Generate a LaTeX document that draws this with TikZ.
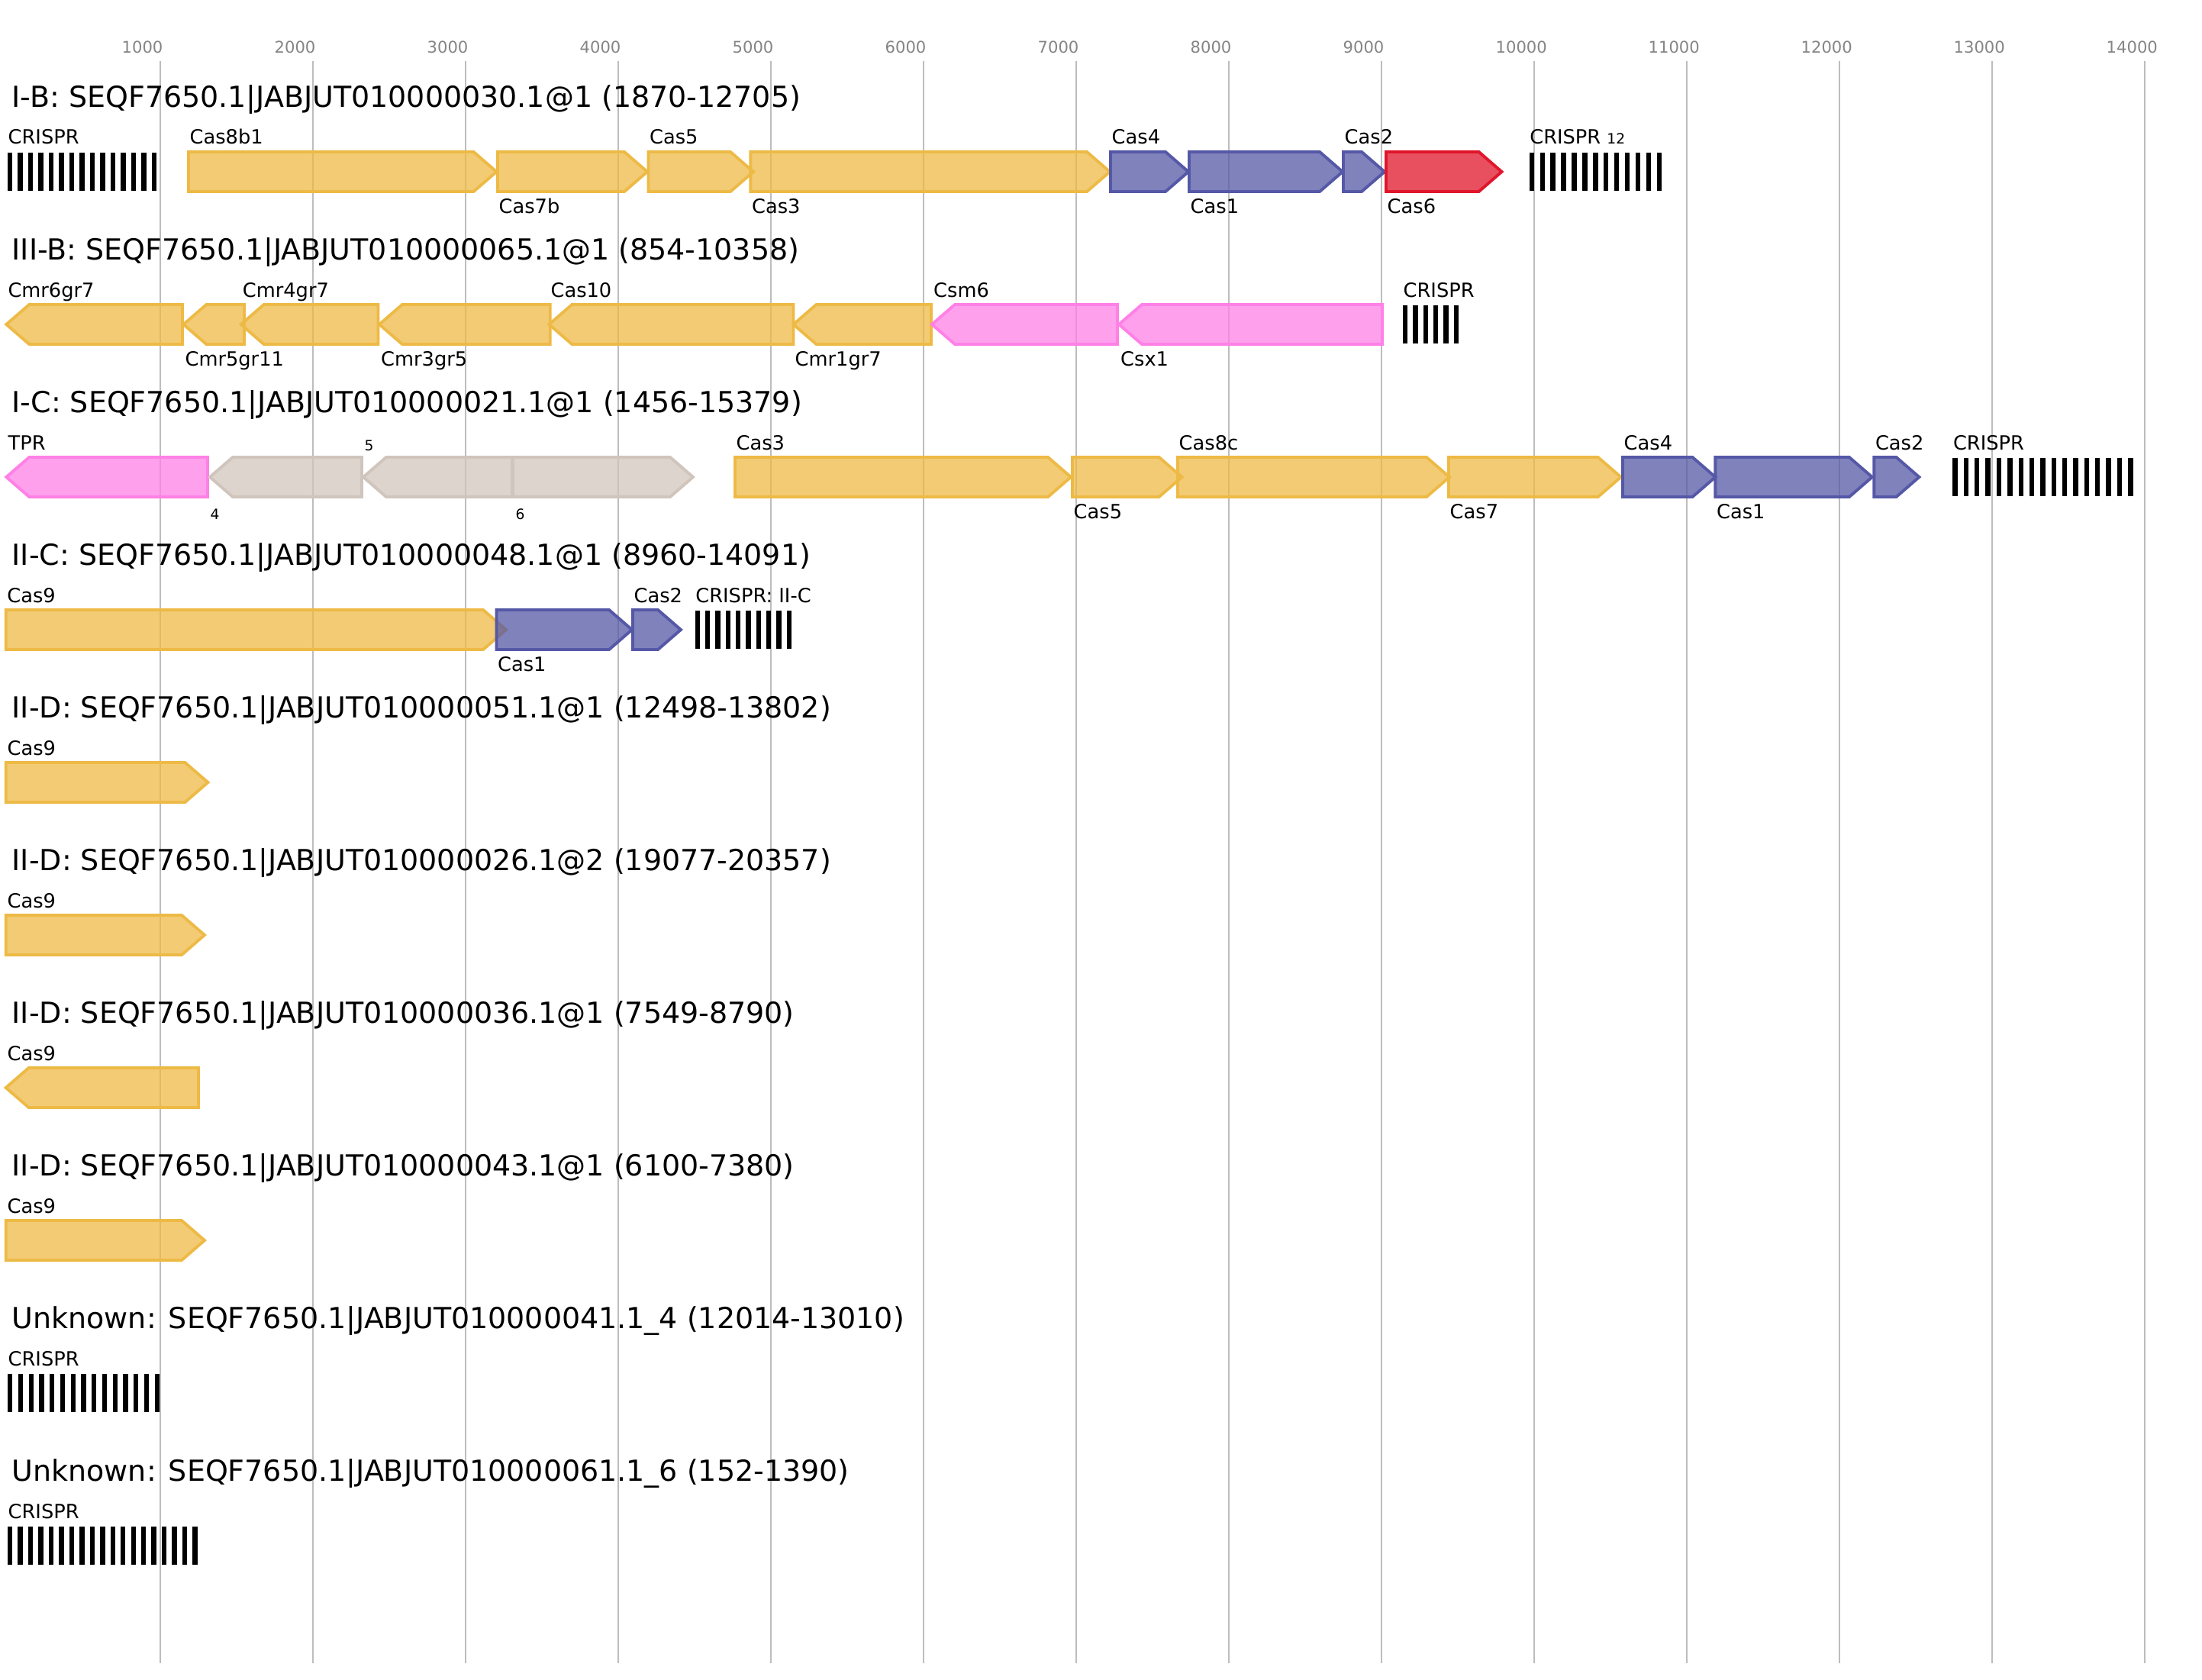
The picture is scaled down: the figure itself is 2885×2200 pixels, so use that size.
\documentclass[tikz,border=0pt]{standalone}
\usepackage{fontspec}
\setmainfont{DejaVu Sans}
\definecolor{cyel}{HTML}{EDBA46}
\definecolor{cblu}{HTML}{5558A6}
\definecolor{cred}{HTML}{E0162B}
\definecolor{cpnk}{HTML}{FF80E6}
\definecolor{cgry}{HTML}{D0C5BC}
\definecolor{cgrid}{HTML}{BDBDBD}
\definecolor{ctick}{HTML}{858585}
\newcommand{\genebox}[5]{%
  \if#1r
    \draw[gene=#5] (#2,#4-26) -- (#3-30,#4-26) -- (#3,#4) -- (#3-30,#4+26) -- (#2,#4+26) -- cycle;
  \else
    \draw[gene=#5] (#2,#4) -- (#2+30,#4-26) -- (#3,#4-26) -- (#3,#4+26) -- (#2+30,#4+26) -- cycle;
  \fi}
\newcommand{\crarray}[4]{%
  \pgfmathsetmacro{\crgap}{(#2-#1-6.4)/(#3-1)}
  \foreach \k in {1,...,#3}
    \fill[black] (#1+\k*\crgap-\crgap,#4-25) rectangle ++(6.4,50);}
\begin{document}
\begin{tikzpicture}[
    x=0.01cm, y=-0.01cm,
    every node/.style={inner sep=0pt, anchor=base west},
    title/.style={font=\fontsize{10.8}{12}\selectfont},
    lab/.style={font=\fontsize{7.3}{8}\selectfont},
    num/.style={font=\fontsize{5.3}{6}\selectfont},
    tick/.style={font=\fontsize{6}{7}\selectfont, text=ctick},
    grid/.style={draw=cgrid, line width=0.55pt},
    gene/.style={draw=#1, fill=#1, fill opacity=0.75, line width=1.1pt, line join=miter}
]
\useasboundingbox (0,0) rectangle (2885,2200);
\foreach \k in {1,...,14} {
    \draw[grid] (10+\k*200,80) -- (10+\k*200,2179);
    \node[tick] (t\k) at (10+\k*200-51,70) {\the\numexpr\k*1000\relax};
}

\node[title] (ib) at (15,140) {I-B: SEQF7650.1|JABJUT010000030.1@1 (1870-12705)};
\crarray{10}{205}{15}{225}
\node[lab] (ib-c1) at (10,189) {CRISPR};
\foreach \s/\e/\d/\c/\t/\p [count=\i] in {
    247/650.5/r/cyel/Cas8b1/-36, 652/848/r/cyel/Cas7b/54, 849.5/987/r/cyel/Cas5/-36,
    983.4/1454/r/cyel/Cas3/54, 1455/1557/r/cblu/Cas4/-36, 1558/1759/r/cblu/Cas1/54,
    1760/1814/r/cblu/Cas2/-36, 1816/1967.5/r/cred/Cas6/54} {
    \genebox{\d}{\s}{\e}{225}{\c}
    \node[lab] (ib-\i) at (\s+1,{225+\p}) {\t};
}
\crarray{2003.6}{2177}{13}{225}
\node[lab] (ib-c2) at (2003.6,189) {CRISPR {\fontsize{5.3}{6}\selectfont 12}};

\node[title] (iiib) at (15,340) {III-B: SEQF7650.1|JABJUT010000065.1@1 (854-10358)};
\foreach \s/\e/\d/\c/\t/\p [count=\i] in {
    8.3/239/l/cyel/Cmr6gr7/-36, 240.4/320/l/cyel/Cmr5gr11/54, 315.7/495.5/l/cyel/Cmr4gr7/-36,
    497/720.7/l/cyel/Cmr3gr5/54, 719.4/1039.5/l/cyel/Cas10/-36, 1039.5/1220/l/cyel/Cmr1gr7/54,
    1221/1464/l/cpnk/Csm6/-36, 1466/1811/l/cpnk/Csx1/54} {
    \genebox{\d}{\s}{\e}{425}{\c}
    \node[lab] (iiib-\i) at (\s+1.5,{425+\p}) {\t};
}
\crarray{1838}{1911}{6}{425}
\node[lab] (iiib-c) at (1838,389) {CRISPR};

\node[title] (ic) at (15,540) {I-C: SEQF7650.1|JABJUT010000021.1@1 (1456-15379)};
\genebox{l}{8.3}{272}{625}{cpnk}
\node[lab] (ic-t) at (10,589) {TPR};
\genebox{l}{275}{474}{625}{cgry}
\node[num] (ic-4) at (275,680) {4};
\genebox{l}{476}{671}{625}{cgry}
\node[num] (ic-5) at (477,590) {5};
\genebox{r}{672}{908}{625}{cgry}
\node[num] (ic-6) at (675,680) {6};
\foreach \s/\e/\d/\c/\t/\p [count=\i] in {
    963/1403/r/cyel/Cas3/-36, 1405/1548.5/r/cyel/Cas5/54, 1543/1899/r/cyel/Cas8c/-36,
    1898/2123.6/r/cyel/Cas7/54, 2126/2247.4/r/cblu/Cas4/-36, 2247.4/2452.8/r/cblu/Cas1/54,
    2455.3/2514.4/r/cblu/Cas2/-36} {
    \genebox{\d}{\s}{\e}{625}{\c}
    \node[lab] (ic-\i) at (\s+1,{625+\p}) {\t};
}
\crarray{2558.3}{2794.5}{17}{625}
\node[lab] (ic-c) at (2558.3,589) {CRISPR};

\node[title] (iic) at (15,740) {II-C: SEQF7650.1|JABJUT010000048.1@1 (8960-14091)};
\foreach \s/\e/\d/\c/\t/\p [count=\i] in {
    7.7/663/r/cyel/Cas9/-36, 650.5/828/r/cblu/Cas1/54, 829/892/r/cblu/Cas2/-36} {
    \genebox{\d}{\s}{\e}{825}{\c}
    \node[lab] (iic-\i) at (\s+1,{825+\p}) {\t};
}
\crarray{910.7}{1037}{10}{825}
\node[lab] (iic-c) at (910.7,789) {CRISPR: II-C};

\node[title] (iid1) at (15,940) {II-D: SEQF7650.1|JABJUT010000051.1@1 (12498-13802)};
\genebox{r}{7.7}{272.4}{1025}{cyel}
\node[lab] (iid1-1) at (9,989) {Cas9};

\node[title] (iid2) at (15,1140) {II-D: SEQF7650.1|JABJUT010000026.1@2 (19077-20357)};
\genebox{r}{7.7}{268}{1225}{cyel}
\node[lab] (iid2-1) at (9,1189) {Cas9};

\node[title] (iid3) at (15,1340) {II-D: SEQF7650.1|JABJUT010000036.1@1 (7549-8790)};
\genebox{l}{7.7}{260}{1425}{cyel}
\node[lab] (iid3-1) at (9,1389) {Cas9};

\node[title] (iid4) at (15,1540) {II-D: SEQF7650.1|JABJUT010000043.1@1 (6100-7380)};
\genebox{r}{7.7}{268}{1625}{cyel}
\node[lab] (iid4-1) at (9,1589) {Cas9};

\node[title] (unk1) at (15,1740) {Unknown: SEQF7650.1|JABJUT010000041.1\_4 (12014-13010)};
\crarray{10}{209}{15}{1825}
\node[lab] (unk1-c) at (10,1789) {CRISPR};

\node[title] (unk2) at (15,1940) {Unknown: SEQF7650.1|JABJUT010000061.1\_6 (152-1390)};
\crarray{10}{258.7}{19}{2025}
\node[lab] (unk2-c) at (10,1989) {CRISPR};
\end{tikzpicture}
\end{document}
